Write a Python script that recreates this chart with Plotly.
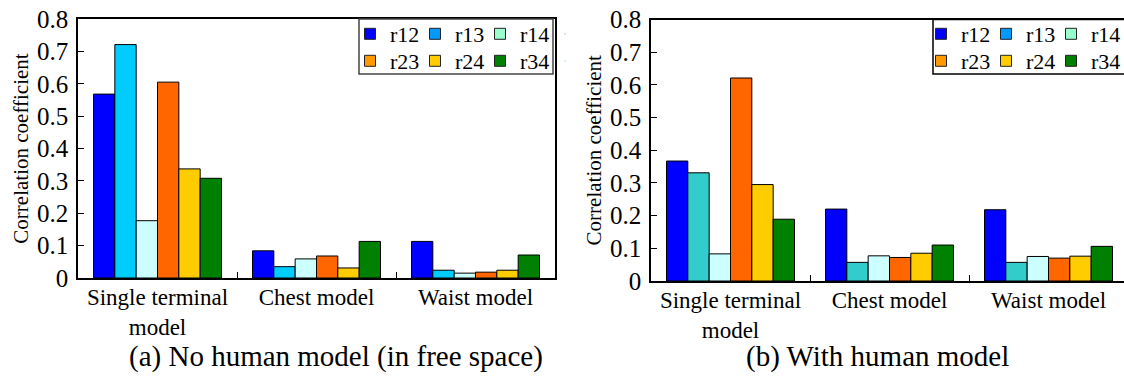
import plotly.graph_objects as go

W, H = 1124, 376

categories = ["Single terminal<br>model", "Chest model", "Waist model"]
series = ["r12", "r13", "r14", "r23", "r24", "r34"]

# (a) No human model (in free space)
free_r12 = [0.568, 0.084, 0.113]
free_r13 = [0.721, 0.035, 0.024]
free_r14 = [0.177, 0.059, 0.015]
free_r23 = [0.605, 0.068, 0.018]
free_r24 = [0.337, 0.031, 0.024]
free_r34 = [0.308, 0.113, 0.071]

# (b) With human model
hum_r12 = [0.367, 0.220, 0.218]
hum_r13 = [0.331, 0.057, 0.057]
hum_r14 = [0.083, 0.077, 0.075]
hum_r23 = [0.621, 0.072, 0.070]
hum_r24 = [0.295, 0.085, 0.076]
hum_r34 = [0.189, 0.110, 0.106]

free_vals = [free_r12, free_r13, free_r14, free_r23, free_r24, free_r34]
hum_vals = [hum_r12, hum_r13, hum_r14, hum_r23, hum_r24, hum_r34]

free_colors = ["#0000FF", "#00CCFF", "#CCFFFF", "#FF6600", "#FFCC00", "#008000"]
hum_colors = ["#0000FF", "#33CCCC", "#CCFFFF", "#FF6600", "#FFCC00", "#008000"]
legend_colors = ["#0000FF", "#0099FF", "#99FFCC", "#FF9900", "#FFCC00", "#008000"]

FONT = "Liberation Serif, Times New Roman, serif"

fig = go.Figure()

for i, name in enumerate(series):
    fig.add_trace(go.Bar(x=categories, y=free_vals[i], name=name, showlegend=False,
                         marker=dict(color=free_colors[i], line=dict(color="black", width=1)),
                         xaxis="x", yaxis="y"))
    fig.add_trace(go.Bar(x=categories, y=hum_vals[i], name=name, showlegend=False,
                         marker=dict(color=hum_colors[i], line=dict(color="black", width=1)),
                         xaxis="x2", yaxis="y2"))

# legend entries (two rows of three per panel)
legend_ids = ["legend", "legend2", "legend3", "legend4"]
for side, (xa, ya) in enumerate([("x", "y"), ("x2", "y2")]):
    for row in range(2):
        lg = legend_ids[side * 2 + row]
        for i in range(row * 3, row * 3 + 3):
            fig.add_trace(go.Scatter(x=[None], y=[None], mode="markers", name=series[i],
                                     marker=dict(symbol="square", size=11, color=legend_colors[i],
                                                 line=dict(color="#222", width=1)),
                                     xaxis=xa, yaxis=ya, legend=lg, showlegend=True))
        # invisible spacer entry so the last label is not clipped
        fig.add_trace(go.Scatter(x=[None], y=[None], mode="markers", name="\u00a0",
                                 marker=dict(symbol="square", size=1, opacity=0),
                                 xaxis=xa, yaxis=ya, legend=lg, showlegend=True,
                                 hoverinfo="skip"))


def px_x(p):
    return p / W


def px_y(p):
    return 1 - p / H


cat_w = (555 - 78) / 3.0
right_span = (W - 651) / cat_w

axis_common = dict(showline=True, linecolor="black", linewidth=1.5, showgrid=False,
                   zeroline=False)

ytick_font = dict(family=FONT, size=25, color="black")
xtick_font = dict(family=FONT, size=23, color="black")

fig.update_layout(
    width=W, height=H,
    margin=dict(l=0, r=0, t=0, b=0, autoexpand=False),
    template="none",
    paper_bgcolor="white", plot_bgcolor="white",
    barmode="group", bargap=0.195, bargroupgap=0,
    font=dict(family=FONT, size=22, color="black"),
    xaxis=dict(domain=[px_x(78), px_x(555)], anchor="y", mirror=True, range=[-0.5, 2.5],
               ticks="inside", tickson="boundaries", ticklen=6, tickcolor="black",
               tickangle=0, automargin=False, tickfont=xtick_font, ticklabelstandoff=-2,
               **axis_common),
    yaxis=dict(domain=[px_y(278), px_y(19)], anchor="x", mirror=True, range=[0, 0.8],
               dtick=0.1, ticks="inside", ticklen=6, tickcolor="black", automargin=False,
               ticklabelstandoff=3, tickfont=ytick_font,
               title=dict(text="Correlation coefficient", font=dict(family=FONT, size=21), standoff=3),
               **axis_common),
    xaxis2=dict(domain=[px_x(651), 1], anchor="y2", mirror=True, range=[-0.5, -0.5 + right_span],
                ticks="inside", tickson="boundaries", ticklen=6, tickcolor="black",
                tickangle=0, automargin=False, tickfont=xtick_font, ticklabelstandoff=-2,
                **axis_common),
    yaxis2=dict(domain=[px_y(281), px_y(19.5)], anchor="x2", mirror=False, range=[0, 0.8],
                dtick=0.1, ticks="inside", ticklen=6, tickcolor="black", automargin=False,
                ticklabelstandoff=3, tickfont=ytick_font,
                title=dict(text="Correlation coefficient", font=dict(family=FONT, size=21), standoff=3),
                **axis_common),
)

leg_common = dict(orientation="h", bgcolor="rgba(0,0,0,0)", borderwidth=0,
                  font=dict(family=FONT, size=22, color="black"),
                  xanchor="left", yanchor="top", entrywidth=20, itemclick=False,
                  itemdoubleclick=False)
fig.update_layout(
    legend=dict(x=px_x(350), y=px_y(13), **leg_common),
    legend2=dict(x=px_x(350), y=px_y(40), **leg_common),
    legend3=dict(x=px_x(921), y=px_y(13), **leg_common),
    legend4=dict(x=px_x(921), y=px_y(40), **leg_common),
)

fig.add_shape(type="rect", xref="paper", yref="paper", x0=px_x(359), x1=px_x(553),
              y0=px_y(74), y1=px_y(19), line=dict(color="#444", width=1.5), layer="above")
fig.add_shape(type="rect", xref="paper", yref="paper", x0=px_x(933), x1=px_x(1130),
              y0=px_y(74), y1=px_y(19.5), line=dict(color="black", width=1.5), layer="above")

fig.add_annotation(text="(a) No human model (in free space)", xref="paper", yref="paper",
                   x=px_x(336), y=px_y(356), xanchor="center", yanchor="middle", showarrow=False,
                   font=dict(family=FONT, size=29, color="black"))
fig.add_annotation(text="(b) With human model", xref="paper", yref="paper",
                   x=px_x(877), y=px_y(356), xanchor="center", yanchor="middle", showarrow=False,
                   font=dict(family=FONT, size=29, color="black"))

fig.write_html("out.html", config={"displayModeBar": False},
               post_script="document.body.style.margin='0';document.body.style.padding='0';document.body.style.overflow='hidden';")
